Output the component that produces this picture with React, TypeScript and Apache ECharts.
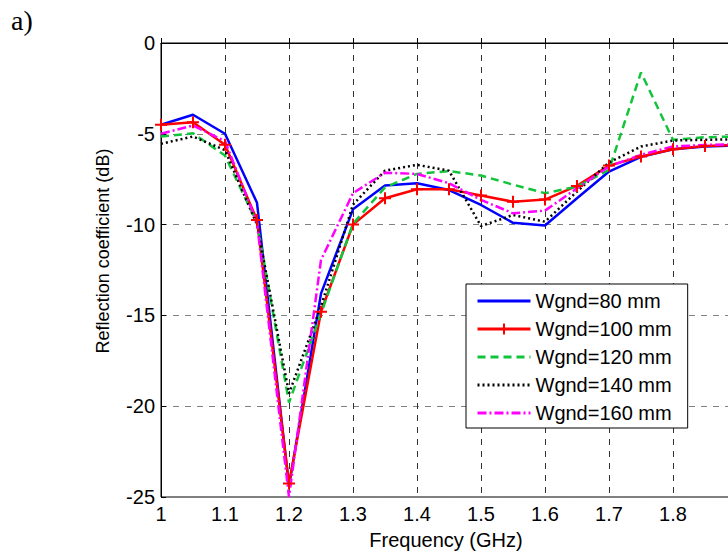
import React, { useEffect, useRef } from "react";
import * as echarts from "echarts";

const freqs = [1.0, 1.05, 1.1, 1.15, 1.2, 1.25, 1.3, 1.35, 1.4, 1.45, 1.5, 1.55, 1.6, 1.65, 1.7, 1.75, 1.8, 1.85, 1.9];
const w80 = [-4.5, -3.95, -5.0, -8.8, -24.4, -13.8, -9.16, -7.85, -7.72, -8.1, -8.92, -9.9, -10.05, -8.55, -7.08, -6.27, -5.85, -5.7, -5.65];
const w100 = [-4.5, -4.36, -5.6, -9.75, -24.25, -14.8, -10.0, -8.55, -8.05, -8.05, -8.4, -8.74, -8.62, -7.87, -6.75, -6.25, -5.85, -5.67, -5.62];
const w120 = [-5.15, -4.97, -6.2, -9.9, -19.8, -14.9, -9.95, -7.95, -7.21, -7.05, -7.3, -7.8, -8.27, -7.91, -6.99, -1.62, -5.33, -5.19, -5.15];
const w140 = [-5.55, -5.15, -5.9, -10.0, -19.3, -14.5, -8.9, -7.03, -6.71, -7.03, -10.08, -9.47, -9.84, -8.18, -6.58, -5.7, -5.37, -5.33, -5.3];
const w160 = [-5.0, -4.54, -5.4, -9.9, -25.0, -11.95, -8.27, -7.14, -7.21, -7.72, -8.64, -9.38, -9.23, -8.0, -6.8, -6.16, -5.7, -5.61, -5.58];
const names = ["Wgnd=80 mm", "Wgnd=100 mm", "Wgnd=120 mm", "Wgnd=140 mm", "Wgnd=160 mm"];

const pairs = (ys: number[]) => freqs.map((f, i) => [f, ys[i]]);

export default function App() {
  const ref = useRef<HTMLDivElement>(null);
  useEffect(() => {
    if (!ref.current) return;
    const chart = echarts.init(ref.current, null, { renderer: "svg" });
    const font = "Liberation Sans, Arial, sans-serif";
    const plain = (name: string, data: number[], color: string, type: any) => ({
      name,
      type: "line",
      data: pairs(data),
      symbol: "circle",
      showSymbol: false,
      lineStyle: { color, width: 2.5, type },
      itemStyle: { color: "transparent", borderWidth: 0 },
    });
    chart.setOption({
      animation: false,
      backgroundColor: "#fff",
      grid: {
        left: 161,
        top: 43,
        width: 576,
        height: 454,
        show: true,
        borderColor: "#000",
        borderWidth: 1,
        backgroundColor: "transparent",
      },
      xAxis: {
        type: "value",
        min: 1,
        max: 1.9,
        interval: 0.1,
        axisLine: { show: true, lineStyle: { color: "#000", width: 1 } },
        axisTick: { show: true, inside: true, length: 5, lineStyle: { color: "#000" } },
        axisLabel: {
          color: "#000",
          fontSize: 20,
          fontFamily: font,
          margin: 7,
          showMaxLabel: false,
          formatter: (v: number) => String(Math.round(v * 10) / 10),
        },
        splitLine: { show: true, lineStyle: { color: "#333", type: [6, 6], width: 1 } },
      },
      yAxis: {
        type: "value",
        min: -25,
        max: 0,
        interval: 5,
        axisLine: { show: true, lineStyle: { color: "#000", width: 1 } },
        axisTick: { show: true, inside: true, length: 5, lineStyle: { color: "#000" } },
        axisLabel: { color: "#000", fontSize: 20, fontFamily: font, margin: 6 },
        splitLine: { show: true, lineStyle: { color: "#808080", type: [6, 6], width: 1 } },
      },
      legend: {
        orient: "vertical",
        left: 466,
        top: 284,
        backgroundColor: "#fff",
        borderColor: "#000",
        borderWidth: 1,
        borderRadius: 0,
        padding: [7, 16, 5, 10],
        itemWidth: 53,
        itemHeight: 14,
        itemGap: 8,
        lineStyle: { width: 3 },
        textStyle: { color: "#000", fontSize: 20, fontFamily: font, lineHeight: 20 },
        data: names,
      },
      graphic: [
        {
          type: "text",
          left: 11,
          top: 6,
          style: { text: "a)", font: "28px 'Liberation Serif', 'Times New Roman', serif", fill: "#000" },
        },
        {
          type: "text",
          x: 103,
          y: 251,
          rotation: Math.PI / 2,
          style: {
            text: "Reflection coefficient (dB)",
            font: "18px 'Liberation Sans', Arial, sans-serif",
            fill: "#000",
            align: "center",
            verticalAlign: "middle",
          },
        },
        {
          type: "text",
          x: 446,
          y: 540,
          style: {
            text: "Frequency (GHz)",
            font: "20px 'Liberation Sans', Arial, sans-serif",
            fill: "#000",
            align: "center",
            verticalAlign: "middle",
          },
        },
      ],
      series: [
        plain(names[0], w80, "#0000ff", "solid"),
        {
          name: names[1],
          type: "line",
          data: pairs(w100),
          symbol: "path://M0,5L10,5M5,0L5,10",
          symbolSize: 12,
          showSymbol: true,
          lineStyle: { color: "#ff0000", width: 2.5 },
          itemStyle: { color: "none", borderColor: "#ff0000", borderWidth: 2 },
        },
        plain(names[2], w120, "#11c43c", [8, 5]),
        plain(names[3], w140, "#000000", [2, 3]),
        plain(names[4], w160, "#ff00ff", [9, 3, 2, 3]),
      ],
    });
    return () => chart.dispose();
  }, []);
  return (
    <div style={{ position: "absolute", left: 0, top: 0, width: 728, height: 555, overflow: "hidden", background: "#fff" }}>
      <div ref={ref} style={{ width: 760, height: 555 }} />
    </div>
  );
}
